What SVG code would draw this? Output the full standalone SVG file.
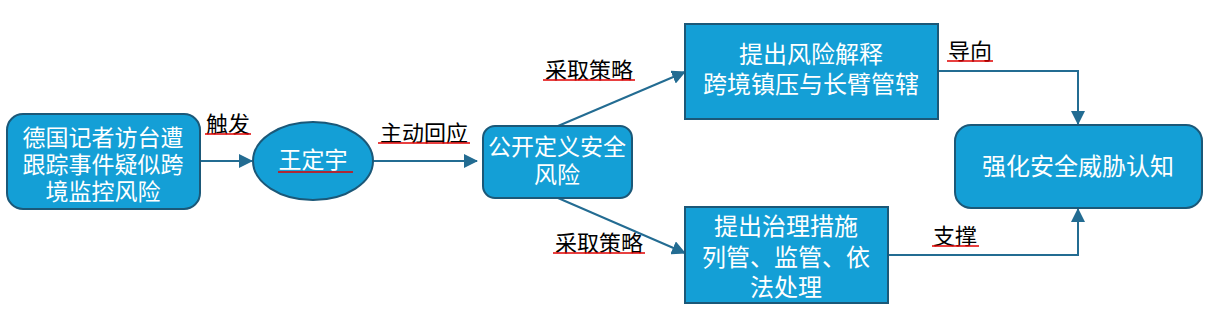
<svg xmlns="http://www.w3.org/2000/svg" width="1212" height="326" viewBox="0 0 1212 326">
<defs>
<style>
.node{fill:#149fd6;stroke:#1b5878;stroke-width:2}
.nt{fill:#ffffff;font-family:"Liberation Sans","Noto Sans CJK SC",sans-serif;font-size:23px;text-anchor:middle}
.big{font-size:24px}
.lbl{fill:#000000;font-family:"Liberation Sans","Noto Sans CJK SC",sans-serif;font-size:22px;text-anchor:middle}
.ul{stroke:#e00000;stroke-width:1.5}
.ed{fill:none;stroke:#236c92;stroke-width:2}
</style>
<marker id="ah2" markerWidth="14" markerHeight="14" refX="13" refY="7" orient="auto" markerUnits="userSpaceOnUse">
<path d="M0,0 L14,7 L0,14 Z" fill="#236c92"/>
</marker>
</defs>
<rect width="1212" height="326" fill="#ffffff"/>
<g id="connectors">
<line class="ed" x1="200" y1="161" x2="252" y2="161" marker-end="url(#ah2)"/>
<line class="ed" x1="373" y1="161" x2="477" y2="161" marker-end="url(#ah2)"/>
<line class="ed" x1="558" y1="126" x2="685" y2="72" marker-end="url(#ah2)"/>
<line class="ed" x1="558" y1="198" x2="685" y2="253" marker-end="url(#ah2)"/>
<polyline class="ed" points="938,71 1078,71 1078,124" marker-end="url(#ah2)"/>
<polyline class="ed" points="888,255 1078,255 1078,209" marker-end="url(#ah2)"/>
</g>
<g id="labels">
<text class="lbl" x="228" y="132">触发</text>
<line class="ul" x1="205" y1="134" x2="251" y2="134"/>
<text class="lbl" x="424" y="141">主动回应</text>
<line class="ul" x1="378" y1="143" x2="470" y2="143"/>
<text class="lbl" x="589" y="78">采取策略</text>
<line class="ul" x1="543" y1="80" x2="635" y2="80"/>
<text class="lbl" x="599" y="251">采取策略</text>
<line class="ul" x1="553" y1="253" x2="645" y2="253"/>
<text class="lbl" x="970" y="59">导向</text>
<line class="ul" x1="947" y1="61" x2="993" y2="61"/>
<text class="lbl" x="955" y="244">支撑</text>
<line class="ul" x1="932" y1="246" x2="979" y2="246"/>
</g>
<g id="n1">
<rect class="node" x="7" y="114" width="193" height="95" rx="16"/>
<text class="nt" x="103" y="146">德国记者访台遭<tspan x="103" dy="27">跟踪事件疑似跨</tspan><tspan x="103" dy="27">境监控风险</tspan></text>
</g>
<g id="n2">
<ellipse class="node" cx="313" cy="161" rx="60" ry="39"/>
<text class="nt" x="313" y="168">王定宇</text>
<line class="ul" x1="278" y1="172" x2="353" y2="172"/>
</g>
<g id="n3">
<rect class="node" x="483" y="126" width="149" height="72" rx="12"/>
<text class="nt" x="557" y="155">公开定义安全<tspan x="557" dy="28">风险</tspan></text>
</g>
<g id="n4">
<rect class="node" x="685" y="24" width="253" height="95"/>
<text class="nt big" x="811" y="63">提出风险解释<tspan x="811" dy="30">跨境镇压与长臂管辖</tspan></text>
</g>
<g id="n5">
<rect class="node" x="685" y="207" width="203" height="96"/>
<text class="nt big" x="786" y="235">提出治理措施<tspan x="786" dy="31">列管、监管、依</tspan><tspan x="786" dy="30">法处理</tspan></text>
</g>
<g id="n6">
<rect class="node" x="955" y="125" width="247" height="83" rx="16"/>
<text class="nt big" x="1078" y="175">强化安全威胁认知</text>
</g>
</svg>
